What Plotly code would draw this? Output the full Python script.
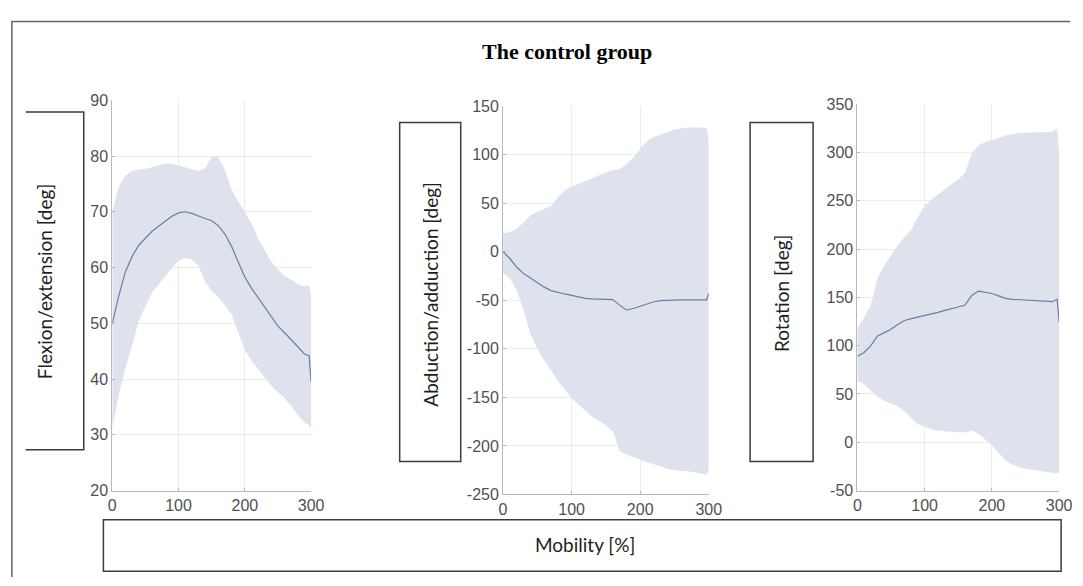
import plotly.graph_objects as go

W, H = 1083, 586

x_pct = [0, 10, 20, 30, 40, 50, 60, 70, 80, 90, 100, 110, 120, 130, 140, 150,
         160, 170, 180, 190, 200, 210, 220, 230, 240, 250, 260, 270, 280, 290, 297, 300]

flex_mean = [50, 55, 59.3, 62, 64, 65.2, 66.5, 67.4, 68.3, 69.2, 69.8, 70, 69.7, 69.2, 68.8, 68.4,
             67.5, 66, 63.8, 61, 58.3, 56.3, 54.6, 52.8, 51.1, 49.5, 48.3, 47.1, 45.8, 44.5, 44.2, 39.5]
flex_upper = [70, 74.5, 76.5, 77.3, 77.6, 77.7, 78, 78.3, 78.6, 78.6, 78.3, 78, 77.6, 77.3, 77.8, 79.8,
              79.8, 77.5, 74, 71.8, 70, 67.9, 65.2, 63, 61, 59.6, 58.5, 57.8, 57, 56.6, 56.8, 55]
flex_lower = [31, 37.4, 42, 46, 50.5, 53, 55.5, 57, 58.4, 59.9, 61.2, 61.7, 61.5, 60.3, 57.5, 55.8,
              54.7, 53.2, 51.6, 48.5, 45.2, 43.3, 41.7, 40.3, 38.8, 37.6, 36.5, 35.2, 33.5, 32.2, 31.7, 31]

abd_mean = [0, -7, -16, -22.5, -27, -31.5, -36.5, -40, -42, -43.5, -45, -46.5, -48, -48.5, -48.7, -49,
            -49.3, -55, -60, -58.5, -56, -54, -51.5, -50.3, -49.8, -49.5, -49.5, -49.6, -49.8, -50, -49.5, -43]
abd_upper = [19, 20, 24, 30, 37.5, 41.5, 44, 47, 56, 63, 67, 70, 72.5, 75.5, 78.5, 81.5,
             84, 85, 90, 97, 106, 114, 118.5, 121, 123.5, 125.5, 127, 128, 128, 128, 127, 115]
abd_lower = [-22, -27, -40, -60, -85, -100, -112, -122, -133, -142, -151, -157, -164, -170, -174, -179,
             -185, -205, -209, -212, -214, -216.5, -219, -221.5, -223.5, -225, -225.5, -226, -227, -228.5, -230, -225]

rot_mean = [89, 93, 100, 110, 113.5, 117, 122, 126, 128, 129.5, 131, 133, 134.5, 136.5, 138, 140,
            142, 152, 156.5, 155.5, 154, 151.5, 149, 148, 147.5, 147, 146.5, 146, 145.5, 145.5, 148, 124.5]
rot_upper = [118, 129, 142, 170, 183, 194, 204, 212, 220, 233, 245, 251, 256.5, 262, 267, 272,
             279, 299, 307.5, 310.5, 312.5, 315, 317.5, 319, 320, 320.5, 321, 321, 321, 321.5, 325, 300]
rot_lower = [64, 60, 53, 47, 43, 40, 37.5, 32, 25, 19, 16, 13.5, 12, 11.5, 11, 10.5,
             10.5, 12, 9, 3, -3, -11, -18.5, -23, -25.5, -27.5, -28.5, -29.5, -30.5, -31.5, -32, -32]

y_labels = ["Flexion/extension [deg]", "Abduction/adduction [deg]", "Rotation [deg]"]
x_label = "Mobility [%]"
title_text = "The control group"
x_ticks = [0, 100, 200, 300]
y_ticks = [[20, 30, 40, 50, 60, 70, 80, 90],
           [-250, -200, -150, -100, -50, 0, 50, 100, 150],
           [-50, 0, 50, 100, 150, 200, 250, 300, 350]]

panels = [(flex_mean, flex_upper, flex_lower),
          (abd_mean, abd_upper, abd_lower),
          (rot_mean, rot_upper, rot_lower)]


def px(x):
    return x / W


def py(y):
    return 1 - y / H


# pixel boxes of plotting areas (left, right, top, bottom)
areas = [(110, 312, 95, 497), (507, 716, 101, 501), (867, 1072, 99, 497)]

fill_col = "rgb(221,226,237)"
line_col = "rgb(110,124,165)"
axis_col = "rgb(185,185,185)"
grid_col = "rgb(236,236,236)"
tick_font = dict(family="Liberation Sans, Arial, sans-serif", size=16, color="rgb(80,80,80)")

fig = go.Figure()
layout_axes = {}
for i, ((mean, upper, lower), (l, r, t, b)) in enumerate(zip(panels, areas)):
    n = "" if i == 0 else str(i + 1)
    xa, ya = "x" + n, "y" + n
    fig.add_trace(go.Scatter(x=x_pct + x_pct[::-1], y=upper + lower[::-1], fill="toself",
                             fillcolor=fill_col, line=dict(width=0), mode="lines",
                             hoverinfo="skip", showlegend=False, xaxis=xa, yaxis=ya))
    fig.add_trace(go.Scatter(x=x_pct, y=mean, mode="lines", line=dict(color=line_col, width=1.2),
                             showlegend=False, xaxis=xa, yaxis=ya))
    yt = y_ticks[i]
    layout_axes["xaxis" + n] = dict(domain=[px(l), px(r)], anchor=ya, range=[0, 300],
                                    tickvals=x_ticks, showgrid=True, gridcolor=grid_col,
                                    showline=True, linecolor=axis_col, linewidth=1,
                                    ticks="inside", ticklen=3, tickcolor=axis_col,
                                    tickfont=tick_font, zeroline=False, fixedrange=True)
    layout_axes["yaxis" + n] = dict(domain=[py(b), py(t)], anchor=xa, range=[yt[0], yt[-1]],
                                    tickvals=yt, ticktext=[str(v) for v in yt],
                                    showgrid=True, gridcolor=grid_col,
                                    showline=True, linecolor=axis_col, linewidth=1,
                                    ticks="inside", ticklen=3, tickcolor=axis_col,
                                    tickfont=tick_font, zeroline=False, fixedrange=True)

fig.update_layout(width=W, height=H, margin=dict(l=0, r=0, t=0, b=0),
                  paper_bgcolor="white", plot_bgcolor="white", **layout_axes)

box_line = dict(color="rgb(60,60,60)", width=1.5)
shapes = []
# outer frame (top and left)
shapes.append(dict(type="path", xref="paper", yref="paper",
                   path=f"M {px(1083)},{py(14)} L {px(8)},{py(14)} L {px(8)},{py(586)}",
                   line=dict(color="rgb(100,100,100)", width=1.5)))
# first label bracket (no left edge)
shapes.append(dict(type="path", xref="paper", yref="paper",
                   path=f"M {px(22)},{py(107)} L {px(81)},{py(107)} L {px(81)},{py(455)} L {px(22)},{py(455)}",
                   line=box_line))
for (l, r, t, b) in [(402, 464, 118, 467), (758, 822, 118, 467), (101, 1074, 527, 580)]:
    shapes.append(dict(type="rect", xref="paper", yref="paper",
                       x0=px(l), x1=px(r), y0=py(b), y1=py(t), line=box_line))
fig.update_layout(shapes=shapes)

lab_font = dict(family="Lato, Open Sans, Arial, sans-serif", size=19, color="rgb(30,30,30)")
annots = [
    dict(x=px(572), y=py(45), text=f"<b>{title_text}</b>",
         font=dict(family="Liberation Serif, Times New Roman, serif", size=22, color="black")),
    dict(x=px(41), y=py(282), text=y_labels[0], textangle=-90, font=lab_font),
    dict(x=px(433), y=py(295), text=y_labels[1], textangle=-90, font=lab_font),
    dict(x=px(790), y=py(294), text=y_labels[2], textangle=-90, font=lab_font),
    dict(x=px(590), y=py(553), text=x_label, font=lab_font),
]
for a in annots:
    a.update(xref="paper", yref="paper", showarrow=False, xanchor="center", yanchor="middle")
fig.update_layout(annotations=annots)

fig.write_html("out.html", config={"displayModeBar": False},
               post_script="document.body.style.margin='0';document.body.style.overflow='hidden';")
